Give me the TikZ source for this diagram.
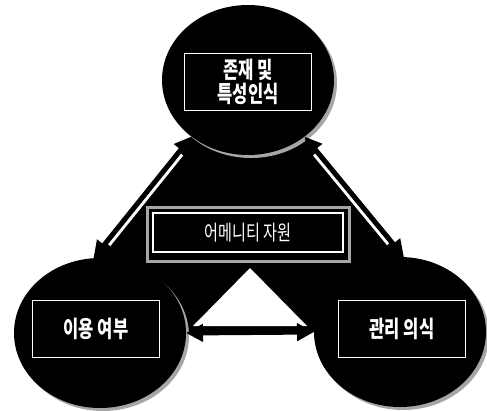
\documentclass[tikz,border=0pt]{standalone}
\usepackage{fontspec}
\newfontfamily\krfont[FakeStretch=0.72]{Noto Sans CJK KR}
\usepackage{tikz}
\usetikzlibrary{arrows.meta,shapes.geometric,shadows,backgrounds,calc}

\begin{document}
\begin{tikzpicture}[
    x=1pt, y=-1pt,
    circ/.style={ellipse, fill=black, minimum width=172pt, minimum height=150pt, inner sep=0pt, outer sep=0pt,
        drop shadow={shadow xshift=3pt, shadow yshift=-3pt, fill=black!35, opacity=1}},
    lbox/.style={draw=white, line width=1.2pt, fill=black, text=white, minimum width=127pt, minimum height=57pt, align=center, font=\krfont\bfseries\fontsize{23}{24}\selectfont},
    rbox/.style={draw=white, line width=1.2pt, fill=black, text=white, minimum width=190pt, minimum height=39pt, font=\krfont\fontsize{21}{22}\selectfont},
    arr/.style={{Triangle[length=17pt,width=17pt]}-{Triangle[length=17pt,width=17pt]}, line width=5pt},
    rim/.style={white, line width=11pt, shorten <=20pt, shorten >=20pt}
]
\useasboundingbox (0,0) rectangle (487,410);

\node[circ] (T) at (248,80) {};
\node[circ] (L) at (100,333) {};
\node[circ] (R) at (400,332) {};

\begin{scope}[on background layer]
\fill[black] (L.95) -- (T.225) -- (T.315) -- (R.87) -- (R.180) -- (L.0) -- cycle;
\fill[white] (250,268) -- (307,326) -- (193,326) -- cycle;
\end{scope}

\draw[rim] (L.95) -- (T.225);
\draw[rim] (R.87) -- (T.315);
\draw[arr] (L.95) -- (T.225);
\draw[arr] (R.87) -- (T.315);
\draw[arr] (L.0) -- (R.180);

\node[lbox] (Tb) at (248,82) {존재 및\\특성인식};
\node[lbox] (Lb) at (96,329) {이용 여부};
\node[lbox] (Rb) at (402,329) {관리 의식};
\node[rbox] (A) at (248,232.5) {어메니티 자원};
\draw[black!35, line width=3pt] ($(A.north west)+(-5,-5)$) rectangle ($(A.south east)+(6,9)$);
\end{tikzpicture}
\end{document}
